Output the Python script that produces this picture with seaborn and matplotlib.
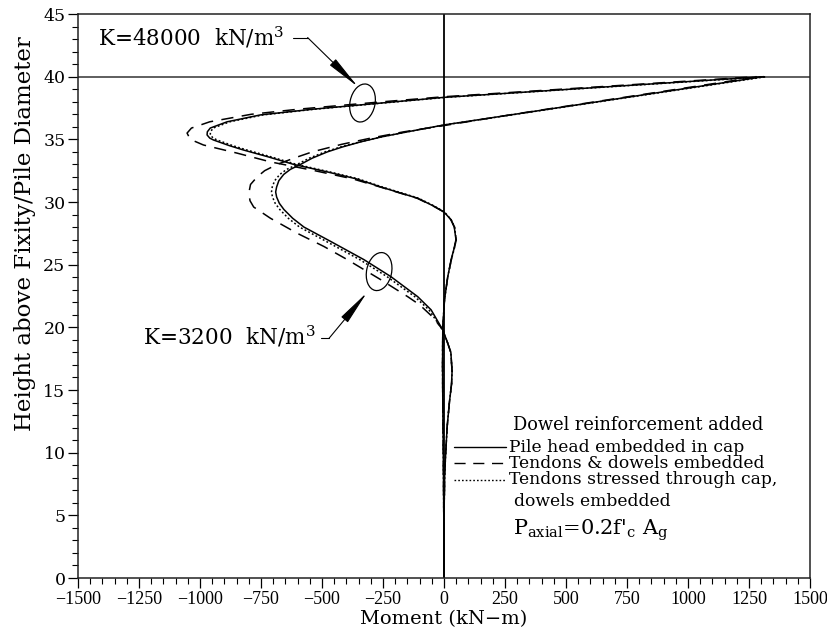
import matplotlib
matplotlib.use("Agg")
import matplotlib.pyplot as plt
import seaborn as sns
import pandas as pd
from matplotlib.patches import Ellipse
from matplotlib.transforms import ScaledTranslation
from matplotlib.lines import Line2D
from matplotlib.ticker import MultipleLocator

# ---------------- data ----------------
# K = 48000 kN/m^3
h_k48 = [40.0, 39.5, 39.0, 38.6, 38.35, 38.0, 37.75, 37.4, 36.95, 36.4, 35.9, 35.6,
         35.35, 35.1, 34.95, 34.5, 34.15, 33.6, 33.0, 32.4, 31.85, 31.2, 30.7, 30.3,
         29.7, 29.2, 28.6, 28.0, 27.0, 26.2, 25.4, 24.0, 22.2, 20.0, 17.0, 14.0,
         10.0, 5.0, 0.0]
m_k48_embedded = [1310, 913, 516, 198, 0, -200, -341, -540, -752, -889, -958, -970,
                  -971, -960, -945, -880, -822, -720, -616, -478, -360, -259, -175, -108,
                  -45, 0, 28, 42, 49, 40, 29, 15, 2, -5, -6, -5, -3, -1, 0]
m_k48_stressed = [1325, 925, 525, 205, 8, -192, -333, -532, -742, -878, -946, -957,
                  -958, -946, -930, -866, -808, -708, -604, -468, -352, -253, -170, -104,
                  -42, 2, 29, 43, 50, 41, 30, 15, 2, -5, -6, -5, -3, -1, 0]
h_k48_dowels = [40.0, 39.5, 39.0, 38.4, 38.0, 37.8, 37.4, 37.0, 36.4, 35.9, 35.5, 35.0,
                34.55, 33.9, 33.2, 32.5, 31.85, 31.2, 30.7, 30.3, 29.7, 29.2, 28.6, 28.0,
                27.0, 26.2, 25.4, 24.0, 22.2, 20.0, 17.0, 14.0, 10.0, 5.0, 0.0]
m_k48_dowels = [1280, 880, 480, 0, -250, -370, -600, -790, -960, -1035, -1053, -1040,
                -986, -848, -711, -530, -375, -262, -178, -110, -46, 0, 28, 43,
                50, 41, 30, 15, 2, -5, -6, -5, -3, -1, 0]

# K = 3200 kN/m^3
h_k32 = [40.0, 39.0, 38.0, 37.0, 36.15, 35.6, 35.2, 34.8, 34.4, 34.0, 33.5, 33.0,
         32.6, 32.2, 31.7, 31.2, 30.8, 30.4, 29.9, 29.4, 28.7, 28.0, 26.85, 25.4,
         24.05, 22.45, 21.4, 19.8, 18.8, 18.0, 16.5, 15.5, 14.0, 12.1, 10.0, 8.4,
         5.0, 0.0]
m_k32_embedded = [1310, 970, 630, 290, 0, -150, -255, -341, -415, -478, -540, -588,
                  -630, -657, -677, -686, -690, -686, -675, -656, -620, -574, -464, -328,
                  -218, -108, -53, -5, 14, 28, 33, 31, 22, 13, 7, 3, 0, 0]
m_k32_stressed = [1320, 978, 636, 294, 2, -150, -255, -345, -422, -488, -552, -602,
                  -645, -673, -694, -704, -707, -703, -692, -673, -638, -592, -482, -345,
                  -234, -120, -62, -6, 14, 28, 33, 31, 22, 13, 7, 3, 0, 0]
h_k32_dowels = [40.0, 39.0, 38.0, 37.0, 36.1, 35.6, 35.1, 34.6, 34.0, 33.5, 33.0, 32.5,
                32.0, 31.4, 30.7, 30.1, 29.6, 28.7, 27.5, 26.45, 25.4, 23.8, 22.45, 21.8,
                20.8, 19.8, 18.8, 18.0, 16.5, 15.5, 14.0, 12.1, 10.0, 8.4, 5.0, 0.0]
m_k32_dowels = [1290, 955, 620, 285, 0, -165, -300, -420, -540, -615, -684, -735,
                -766, -793, -800, -795, -780, -711, -601, -492, -396, -259, -149, -100,
                -45, -5, 14, 28, 33, 31, 22, 13, 7, 3, 0, 0]

cases = ["Pile head embedded in cap", "Tendons & dowels embedded",
         "Tendons stressed through cap,\ndowels embedded"]
k_labels = ["K=48000", "K=3200"]

x_ticks = list(range(-1500, 1501, 250))
y_ticks = list(range(0, 46, 5))

# ---------------- long-form table ----------------
rows = []
series = [
    (k_labels[0], cases[0], h_k48, m_k48_embedded),
    (k_labels[0], cases[1], h_k48_dowels, m_k48_dowels),
    (k_labels[0], cases[2], h_k48, m_k48_stressed),
    (k_labels[1], cases[0], h_k32, m_k32_embedded),
    (k_labels[1], cases[1], h_k32_dowels, m_k32_dowels),
    (k_labels[1], cases[2], h_k32, m_k32_stressed),
]
for k, c, hs, ms in series:
    for h, m in zip(hs, ms):
        rows.append({"K": k, "case": c, "height": h, "moment": m})
df = pd.DataFrame(rows)

# ---------------- style ----------------
sns.set_theme(style="ticks")
plt.rcParams["font.family"] = ["DejaVu Serif"]
plt.rcParams["mathtext.fontset"] = "dejavuserif"
for key in ["text.color", "axes.labelcolor", "xtick.color", "ytick.color",
            "axes.edgecolor"]:
    plt.rcParams[key] = "black"

fig = plt.figure(figsize=(8.28, 6.34), dpi=100)
ax = fig.add_axes([0.0942, 0.0883, 0.8841, 0.8896])

dash_map = {cases[0]: "", cases[1]: (8, 5.5), cases[2]: (1.2, 1.5)}
sns.lineplot(data=df, x="moment", y="height", units="K", style="case",
             style_order=cases, dashes=dash_map, color="black",
             estimator=None, orient="y", sort=True, legend=False,
             linewidth=1.1, ax=ax)

ax.axhline(40, color="#333333", lw=1.1, zorder=1)
ax.axvline(0, color="black", lw=1.3, zorder=1)

ax.set_xlim(-1500, 1500)
ax.set_ylim(0, 45)
ax.set_xticks(x_ticks)
ax.set_yticks(y_ticks)
ax.xaxis.set_minor_locator(MultipleLocator(50))
ax.yaxis.set_minor_locator(MultipleLocator(1))
ax.tick_params(which="major", direction="out", length=7, width=0.9, color="black",
               pad=2)
ax.tick_params(axis="y", which="major", labelsize=12.5)
ax.tick_params(which="minor", direction="out", length=4, width=0.8, color="black")
for lab in ax.get_xticklabels():
    lab.set_fontfamily(["Liberation Serif"])
    lab.set_fontsize(13)
for sp in ax.spines.values():
    sp.set_visible(True)
    sp.set_linewidth(1.1)
    sp.set_color("#222222")

ax.set_xlabel("Moment (kN\u2212m)", fontsize=14, labelpad=2)
ax.set_ylabel("Height above Fixity/Pile Diameter", fontsize=16.5)
ax.yaxis.set_label_coords(-0.057, 0.61)

# ---------------- annotations ----------------
ann_upper = {"text_xy": (-1417, 42.5), "seg": (-620, -559, 43.12), "tip": (-353, 39.2),
             "ellipse": (-334, 37.9)}
ann_lower = {"text_xy": (-1232, 18.6), "seg": (-505, -471, 19.13), "tip": (-316, 22.77),
             "ellipse": (-266, 24.45)}
labels_ann = ["K=48000  kN/m$^3$", "K=3200  kN/m$^3$"]
for ann, txt in zip([ann_upper, ann_lower], labels_ann):
    ax.text(*ann["text_xy"], txt, fontsize=15.5, ha="left", va="baseline")
    x0, x1, yy = ann["seg"]
    ax.add_line(Line2D([x0, x1], [yy, yy], color="black", lw=0.8))
    ax.annotate("", xy=ann["tip"], xytext=(x1, yy),
                arrowprops=dict(arrowstyle="-|>,head_length=1.8,head_width=0.22",
                                color="black", lw=0.8, shrinkA=0, shrinkB=0))
    tr = fig.dpi_scale_trans + ScaledTranslation(*ann["ellipse"], ax.transData)
    ax.add_patch(Ellipse((0, 0), 0.25, 0.385, angle=-12, transform=tr,
                         fill=False, ec="black", lw=0.9))

# ---------------- manual legend ----------------
leg_fs = 12.3
ax.text(282, 12.21, "Dowel reinforcement added", fontsize=12.8, ha="left", va="center")
leg_y = [10.45, 9.15, 7.85]
for c, yy in zip(cases, leg_y):
    dashes = dash_map[c]
    ln = Line2D([42, 252], [yy, yy], color="black", lw=1.0)
    if dashes:
        ln.set_dashes(dashes)
    ax.add_line(ln)
    ax.text(266, yy, c.split("\n")[0], fontsize=leg_fs, ha="left", va="center")
ax.text(286, 6.09, "dowels embedded", fontsize=leg_fs, ha="left", va="center")
ax.text(282, 3.8, r"P$_{\rm axial}$=0.2f'$_{\rm c}$ A$_{\rm g}$", fontsize=15,
        ha="left", va="center")

fig.savefig("out.png", dpi=100, facecolor="white")
